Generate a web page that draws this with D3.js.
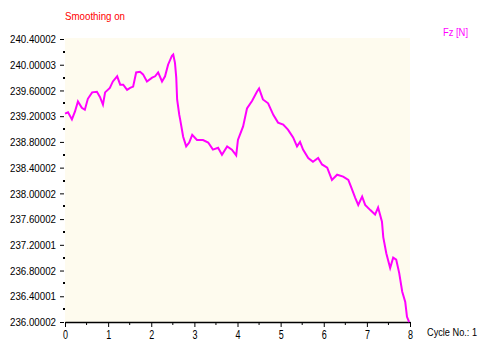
<!DOCTYPE html>
<html>
<head>
<meta charset="utf-8">
<script src="https://cdn.jsdelivr.net/npm/d3@7"></script>
<style>
  html, body { margin: 0; padding: 0; background: #ffffff; }
  svg { display: block; }
  text { font-family: "Liberation Sans", Arial, sans-serif; }
</style>
</head>
<body>
<svg id="chart" width="482" height="350"></svg>
<script>
// Cycle position and measured force Fz [N]
const cycle = [0.00, 0.07, 0.16, 0.23, 0.30, 0.39, 0.46, 0.53, 0.63, 0.74, 0.81, 0.88, 0.93, 1.04, 1.11, 1.21,
  1.28, 1.35, 1.44, 1.51, 1.58, 1.65, 1.74, 1.81, 1.90, 2.02, 2.09, 2.16, 2.25, 2.32, 2.39, 2.48, 2.51, 2.55,
  2.58, 2.60, 2.65, 2.67, 2.74, 2.81, 2.88, 2.95, 3.06, 3.20, 3.32, 3.43, 3.55, 3.64, 3.76, 3.87, 3.97, 4.01,
  4.13, 4.22, 4.34, 4.45, 4.50, 4.59, 4.71, 4.83, 4.94, 5.06, 5.17, 5.29, 5.38, 5.45, 5.52, 5.64, 5.75, 5.87,
  5.96, 6.08, 6.19, 6.31, 6.45, 6.57, 6.64, 6.73, 6.80, 6.89, 6.96, 7.08, 7.19, 7.26, 7.35, 7.38, 7.45, 7.54,
  7.61, 7.68, 7.75, 7.82, 7.89, 7.93, 7.98];
const fz = [239.24, 239.26, 239.15, 239.27, 239.43, 239.33, 239.30, 239.47, 239.57, 239.58, 239.50, 239.38,
  239.57, 239.64, 239.74, 239.82, 239.69, 239.69, 239.61, 239.64, 239.66, 239.88, 239.89, 239.85, 239.74,
  239.80, 239.82, 239.88, 239.74, 239.82, 240.00, 240.14, 240.16, 240.03, 239.80, 239.46, 239.22, 239.15,
  238.88, 238.73, 238.79, 238.91, 238.83, 238.83, 238.79, 238.68, 238.71, 238.60, 238.73, 238.68, 238.59,
  238.83, 239.04, 239.32, 239.44, 239.58, 239.63, 239.46, 239.40, 239.22, 239.10, 239.07, 238.99, 238.87,
  238.73, 238.80, 238.68, 238.55, 238.49, 238.55, 238.45, 238.40, 238.21, 238.29, 238.26, 238.21, 238.09,
  237.93, 237.82, 237.95, 237.82, 237.74, 237.67, 237.78, 237.56, 237.32, 237.07, 236.84, 237.00, 236.97,
  236.76, 236.47, 236.31, 236.08, 236.00];

const yTickValues = [236.0, 236.4, 236.8, 237.2, 237.6, 238.0, 238.4, 238.8, 239.2, 239.6, 240.0, 240.4];
const yTickLabels = ["236.00002", "236.40001", "236.80002", "237.20001", "237.60002", "238.00002",
  "238.40002", "238.80002", "239.20003", "239.60002", "240.00003", "240.40002"];
const xTickValues = [0, 1, 2, 3, 4, 5, 6, 7, 8];

const svg = d3.select("#chart");
const plotLeft = 65, plotRight = 410, plotTop = 39, plotBottom = 322;

const x = d3.scaleLinear().domain([0, 8]).range([plotLeft, plotRight]);
const y = d3.scaleLinear().domain([236.0, 240.4]).range([plotBottom, plotTop]);

// plot background
svg.append("rect")
  .attr("x", plotLeft).attr("y", plotTop - 1)
  .attr("width", plotRight - plotLeft).attr("height", plotBottom - plotTop + 1)
  .attr("fill", "#fefbee");

// minor y ticks (dots)
const yMinor = d3.range(0, yTickValues.length - 1).map(i => (yTickValues[i] + yTickValues[i + 1]) / 2);
svg.append("g").selectAll("rect").data(yMinor).join("rect")
  .attr("x", plotLeft - 2).attr("y", d => Math.round(y(d)) - 1)
  .attr("width", 2).attr("height", 2).attr("fill", "#000");

// y axis with major ticks, no domain line; labels squeezed to a narrow face
const yAxis = d3.axisLeft(y).tickValues(yTickValues)
  .tickFormat((d, i) => yTickLabels[i]).tickSize(4).tickPadding(4);
const gy = svg.append("g").attr("transform", `translate(${plotLeft - 1},0)`).call(yAxis);
gy.select(".domain").remove();
gy.selectAll("text").attr("font-size", 11.5).attr("fill", "#000")
  .attr("textLength", 46).attr("lengthAdjust", "spacingAndGlyphs");

// x axis
const xAxis = d3.axisBottom(x).tickValues(xTickValues).tickFormat(d3.format("d"))
  .tickSize(5).tickSizeOuter(0).tickPadding(3);
const gx = svg.append("g").attr("transform", `translate(0,${plotBottom})`).call(xAxis);
gx.selectAll("text").attr("font-size", 12).attr("fill", "#000")
  .attr("textLength", 5).attr("lengthAdjust", "spacingAndGlyphs");
gx.select(".domain").attr("stroke-width", 1.5);

// minor x ticks
const xMinor = d3.range(0, 8).map(d => d + 0.5);
svg.append("g").selectAll("line").data(xMinor).join("line")
  .attr("x1", d => x(d)).attr("x2", d => x(d))
  .attr("y1", plotBottom).attr("y2", plotBottom + 3)
  .attr("stroke", "#000");

// force trace
const pts = cycle.map((c, i) => [c, fz[i]]);
svg.append("path")
  .datum(pts)
  .attr("fill", "none")
  .attr("stroke", "#ff00ff")
  .attr("stroke-width", 2)
  .attr("stroke-linejoin", "miter")
  .attr("d", d3.line().x(d => x(d[0])).y(d => y(d[1])));

// labels
function label(tx, ty, size, len, color, str) {
  svg.append("text").attr("x", tx).attr("y", ty).attr("font-size", size)
    .attr("textLength", len).attr("lengthAdjust", "spacingAndGlyphs")
    .attr("fill", color).text(str);
}
label(65, 20, 11, 60, "#ff0000", "Smoothing on");
label(443, 36, 11, 25, "#ff00ff", "Fz [N]");
label(427, 336, 10, 50, "#000", "Cycle No.: 1");
</script>
</body>
</html>
